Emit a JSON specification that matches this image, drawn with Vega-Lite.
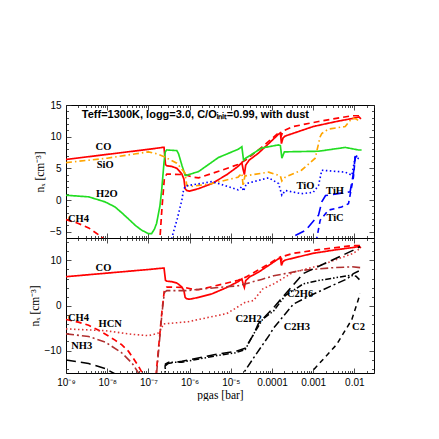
{
  "$schema": "https://vega.github.io/schema/vega-lite/v6.json",
  "padding": {"left": 28, "top": 99, "right": 0, "bottom": 0},
  "background": "white",
  "spacing": 0,
  "bounds": "flush",
  "config": {
    "view": {"stroke": "black", "strokeWidth": 1},
    "axis": {"domain": false, "grid": false, "labelFont": "Liberation Sans", "labelFontSize": 10, "labelColor": "black", "tickColor": "#222222", "tickWidth": 0.8, "titleFont": "Liberation Serif", "titleFontSize": 11.5, "titleFontWeight": "normal", "titleColor": "black", "labelFlush": false, "labelOverlap": false}
  },
  "datasets": {
    "lines": [
      {"s":"CO","x":1e-9,"y":6.4},{"s":"CO","x":1e-8,"y":7.2},{"s":"CO","x":1e-7,"y":8.0},{"s":"CO","x":2.2e-7,"y":8.3},{"s":"CO","x":2.4e-7,"y":8.3},{"s":"CO","x":2.6e-7,"y":5.6},{"s":"CO","x":2.8e-7,"y":5.4},{"s":"CO","x":3.7e-7,"y":5.3},{"s":"CO","x":4.9e-7,"y":5.0},{"s":"CO","x":5.6e-7,"y":4.6},{"s":"CO","x":6.5e-7,"y":4.1},{"s":"CO","x":7.3e-7,"y":3.3},{"s":"CO","x":7.8e-7,"y":1.8},{"s":"CO","x":8.5e-7,"y":1.5},{"s":"CO","x":1.0e-6,"y":1.4},{"s":"CO","x":1.66e-6,"y":1.8},{"s":"CO","x":3.5e-6,"y":2.6},{"s":"CO","x":8e-6,"y":4.0},{"s":"CO","x":1.5e-5,"y":5.3},{"s":"CO","x":1.86e-5,"y":5.9},{"s":"CO","x":2.0e-5,"y":4.8},{"s":"CO","x":2.14e-5,"y":4.0},{"s":"CO","x":2.3e-5,"y":5.5},{"s":"CO","x":2.8e-5,"y":6.3},{"s":"CO","x":4.7e-5,"y":7.4},{"s":"CO","x":8.3e-5,"y":8.9},{"s":"CO","x":1.45e-4,"y":10.4},{"s":"CO","x":1.6e-4,"y":10.6},{"s":"CO","x":1.7e-4,"y":8.9},{"s":"CO","x":1.85e-4,"y":9.8},{"s":"CO","x":2.1e-4,"y":10.1},{"s":"CO","x":1e-3,"y":11.6},{"s":"CO","x":3.7e-3,"y":12.4},{"s":"CO","x":9.5e-3,"y":12.9},{"s":"CO","x":1.3e-2,"y":13.1},{"s":"CO","x":1.45e-2,"y":12.8},

      {"s":"CH4","x":1e-9,"y":-3.1},{"s":"CH4","x":2e-9,"y":-3.7},{"s":"CH4","x":3.55e-9,"y":-4.4},{"s":"CH4","x":6.2e-9,"y":-5.5},{"s":"CH4","x":1e-8,"y":-6.6},{"s":"CH4","x":1.55e-8,"y":-7.7},{"s":"CH4","x":2.24e-8,"y":-8.7},{"s":"CH4","x":3.3e-8,"y":-10.2},{"s":"CH4","x":4.5e-8,"y":-12.0},{"s":"CH4","x":5.75e-8,"y":-13.5},{"s":"CH4","x":7e-8,"y":-14.9},{"s":"CH4","x":9e-8,"y":-16.5},{"s":"CH4","x":1.3e-7,"y":-21},{"s":"CH4","x":1.55e-7,"y":-15},{"s":"CH4","x":2.15e-7,"y":-1.0},{"s":"CH4","x":2.45e-7,"y":3.5},{"s":"CH4","x":2.8e-7,"y":4.1},{"s":"CH4","x":7.8e-7,"y":4.0},{"s":"CH4","x":1.2e-6,"y":3.6},{"s":"CH4","x":1.66e-6,"y":3.5},{"s":"CH4","x":3.5e-6,"y":4.2},{"s":"CH4","x":6e-6,"y":4.7},{"s":"CH4","x":1.5e-5,"y":5.6},{"s":"CH4","x":2.3e-5,"y":6.3},{"s":"CH4","x":5.6e-5,"y":8.3},{"s":"CH4","x":1.45e-4,"y":10.6},{"s":"CH4","x":1.6e-4,"y":10.8},{"s":"CH4","x":1.7e-4,"y":10.2},{"s":"CH4","x":1.85e-4,"y":10.9},{"s":"CH4","x":3.3e-4,"y":11.6},{"s":"CH4","x":1.35e-3,"y":12.4},{"s":"CH4","x":8.7e-3,"y":13.3},{"s":"CH4","x":1.45e-2,"y":13.3},

      {"s":"H2O","x":1e-9,"y":0.75},{"s":"H2O","x":3.55e-9,"y":0.5},{"s":"H2O","x":8.9e-9,"y":-0.3},{"s":"H2O","x":1.55e-8,"y":-1.1},{"s":"H2O","x":2.24e-8,"y":-2.0},{"s":"H2O","x":3.3e-8,"y":-3.0},{"s":"H2O","x":5e-8,"y":-4.1},{"s":"H2O","x":7e-8,"y":-4.8},{"s":"H2O","x":1.0e-7,"y":-5.3},{"s":"H2O","x":1.2e-7,"y":-5.3},{"s":"H2O","x":1.4e-7,"y":-4.6},{"s":"H2O","x":1.58e-7,"y":-3.7},{"s":"H2O","x":1.9e-7,"y":-1.0},{"s":"H2O","x":2.1e-7,"y":1.5},{"s":"H2O","x":2.4e-7,"y":6.0},{"s":"H2O","x":2.57e-7,"y":7.6},{"s":"H2O","x":2.8e-7,"y":7.9},{"s":"H2O","x":4.9e-7,"y":7.8},{"s":"H2O","x":5.4e-7,"y":7.3},{"s":"H2O","x":6.5e-7,"y":5.5},{"s":"H2O","x":7.8e-7,"y":3.9},{"s":"H2O","x":8.5e-7,"y":3.9},{"s":"H2O","x":1.66e-6,"y":4.5},{"s":"H2O","x":5e-6,"y":6.7},{"s":"H2O","x":1.5e-5,"y":8.0},{"s":"H2O","x":1.86e-5,"y":8.4},{"s":"H2O","x":2.04e-5,"y":6.3},{"s":"H2O","x":2.3e-5,"y":6.6},{"s":"H2O","x":5.6e-5,"y":8.2},{"s":"H2O","x":1.45e-4,"y":8.7},{"s":"H2O","x":1.6e-4,"y":8.6},{"s":"H2O","x":1.74e-4,"y":6.6},{"s":"H2O","x":2.0e-4,"y":7.6},{"s":"H2O","x":1.35e-3,"y":7.7},{"s":"H2O","x":6e-3,"y":8.3},{"s":"H2O","x":1.26e-2,"y":7.9},{"s":"H2O","x":1.5e-2,"y":7.9},

      {"s":"SiO","x":1e-9,"y":5.9},{"s":"SiO","x":1e-8,"y":6.6},{"s":"SiO","x":5e-8,"y":7.3},{"s":"SiO","x":1e-7,"y":7.6},{"s":"SiO","x":1.6e-7,"y":7.3},{"s":"SiO","x":2.5e-7,"y":6.8},{"s":"SiO","x":4.9e-7,"y":5.8},{"s":"SiO","x":5.4e-7,"y":5.5},{"s":"SiO","x":7e-7,"y":4.6},{"s":"SiO","x":7.8e-7,"y":4.2},{"s":"SiO","x":8.5e-7,"y":2.4},{"s":"SiO","x":1e-6,"y":2.1},{"s":"SiO","x":1.66e-6,"y":2.3},{"s":"SiO","x":3.5e-6,"y":2.6},{"s":"SiO","x":1.5e-5,"y":3.6},{"s":"SiO","x":1.86e-5,"y":4.2},{"s":"SiO","x":2.0e-5,"y":2.2},{"s":"SiO","x":2.2e-5,"y":3.8},{"s":"SiO","x":8.3e-5,"y":4.4},{"s":"SiO","x":1.6e-4,"y":3.8},{"s":"SiO","x":1.74e-4,"y":3.0},{"s":"SiO","x":2.1e-4,"y":3.6},{"s":"SiO","x":5.2e-4,"y":4.7},{"s":"SiO","x":1.12e-3,"y":6.6},{"s":"SiO","x":1.48e-3,"y":10.0},{"s":"SiO","x":1.62e-3,"y":10.5},{"s":"SiO","x":2.35e-3,"y":11.2},{"s":"SiO","x":6e-3,"y":11.6},{"s":"SiO","x":8.7e-3,"y":12.9},{"s":"SiO","x":1.1e-2,"y":12.8},{"s":"SiO","x":1.4e-2,"y":12.3},

      {"s":"TiO","x":3.3e-7,"y":-8},{"s":"TiO","x":3.7e-7,"y":-6},{"s":"TiO","x":5e-7,"y":-3},{"s":"TiO","x":6.5e-7,"y":0},{"s":"TiO","x":7.1e-7,"y":1.5},{"s":"TiO","x":7.8e-7,"y":2.2},{"s":"TiO","x":3.5e-6,"y":2.9},{"s":"TiO","x":5e-6,"y":2.6},{"s":"TiO","x":1.5e-5,"y":1.6},{"s":"TiO","x":1.86e-5,"y":2.1},{"s":"TiO","x":2.04e-5,"y":1.4},{"s":"TiO","x":2.4e-5,"y":2.6},{"s":"TiO","x":8.3e-5,"y":3.5},{"s":"TiO","x":1.45e-4,"y":2.6},{"s":"TiO","x":1.74e-4,"y":0.75},{"s":"TiO","x":2.1e-4,"y":1.5},{"s":"TiO","x":5.2e-4,"y":1.0},{"s":"TiO","x":1.0e-3,"y":1.2},{"s":"TiO","x":1.35e-3,"y":2.3},{"s":"TiO","x":1.62e-3,"y":4.7},{"s":"TiO","x":6e-3,"y":4.4},{"s":"TiO","x":8.7e-3,"y":3.9},{"s":"TiO","x":1.05e-2,"y":6.8},{"s":"TiO","x":1.3e-2,"y":6.5},

      {"s":"TiH","x":2.4e-4,"y":-7.5},{"s":"TiH","x":3.0e-4,"y":-5.9},{"s":"TiH","x":6.5e-4,"y":-4.8},{"s":"TiH","x":1.35e-3,"y":-2.4},{"s":"TiH","x":1.62e-3,"y":-0.3},{"s":"TiH","x":2.0e-3,"y":0.7},{"s":"TiH","x":7.9e-3,"y":1.3},{"s":"TiH","x":9.5e-3,"y":4.2},{"s":"TiH","x":1.05e-2,"y":6.8},{"s":"TiH","x":1.2e-2,"y":7.0},

      {"s":"TiC","x":1.15e-3,"y":-8},{"s":"TiC","x":1.23e-3,"y":-6},{"s":"TiC","x":1.48e-3,"y":-3.2},{"s":"TiC","x":2.35e-3,"y":-1.6},{"s":"TiC","x":4.9e-3,"y":-1.1},{"s":"TiC","x":7.2e-3,"y":-0.6},{"s":"TiC","x":9.5e-3,"y":3.6},{"s":"TiC","x":1.05e-2,"y":6.7},{"s":"TiC","x":1.3e-2,"y":6.9},

      {"s":"HCN","x":1e-9,"y":-5.2},{"s":"HCN","x":8.9e-9,"y":-5.6},{"s":"HCN","x":4e-8,"y":-6.4},{"s":"HCN","x":1e-7,"y":-6.7},{"s":"HCN","x":1.7e-7,"y":-6.2},{"s":"HCN","x":2.1e-7,"y":-5.0},{"s":"HCN","x":2.3e-7,"y":-4.1},{"s":"HCN","x":9.3e-7,"y":-3.6},{"s":"HCN","x":1.66e-6,"y":-3.1},{"s":"HCN","x":8e-6,"y":-1.8},{"s":"HCN","x":2.24e-5,"y":0.7},{"s":"HCN","x":3.55e-5,"y":1.1},{"s":"HCN","x":6e-5,"y":3.7},{"s":"HCN","x":1.1e-4,"y":4.8},{"s":"HCN","x":3.3e-4,"y":7.4},{"s":"HCN","x":1.45e-3,"y":8.9},{"s":"HCN","x":9.5e-3,"y":11.6},{"s":"HCN","x":1.38e-2,"y":12.7},

      {"s":"NH3","x":1e-9,"y":-6.3},{"s":"NH3","x":3.55e-9,"y":-6.9},{"s":"NH3","x":8.9e-9,"y":-8.1},{"s":"NH3","x":2.24e-8,"y":-10.5},{"s":"NH3","x":4e-8,"y":-12.8},{"s":"NH3","x":5.75e-8,"y":-15},{"s":"NH3","x":9e-8,"y":-19},{"s":"NH3","x":1.3e-7,"y":-21},{"s":"NH3","x":1.55e-7,"y":-16},{"s":"NH3","x":2.15e-7,"y":-1.5},{"s":"NH3","x":2.45e-7,"y":2.9},{"s":"NH3","x":2.8e-7,"y":3.3},{"s":"NH3","x":8.5e-7,"y":3.3},{"s":"NH3","x":2.2e-6,"y":3.7},{"s":"NH3","x":1.55e-5,"y":4.4},{"s":"NH3","x":5.6e-5,"y":5.8},{"s":"NH3","x":1.1e-4,"y":6.6},{"s":"NH3","x":5.2e-4,"y":7.8},{"s":"NH3","x":3e-3,"y":8.4},{"s":"NH3","x":8.7e-3,"y":8.6},{"s":"NH3","x":1.45e-2,"y":8.4},

      {"s":"C2H2","x":1e-9,"y":-12.1},{"s":"C2H2","x":3.55e-9,"y":-12.9},{"s":"C2H2","x":8.9e-9,"y":-14.0},{"s":"C2H2","x":1.55e-8,"y":-15.2},{"s":"C2H2","x":3e-8,"y":-17},{"s":"C2H2","x":1e-7,"y":-20},{"s":"C2H2","x":2.45e-7,"y":-20},{"s":"C2H2","x":2.55e-7,"y":-13.4},{"s":"C2H2","x":3e-7,"y":-12.9},{"s":"C2H2","x":6.5e-7,"y":-12.4},{"s":"C2H2","x":4.2e-6,"y":-10.9},{"s":"C2H2","x":1.3e-5,"y":-10.2},{"s":"C2H2","x":2.24e-5,"y":-9.5},{"s":"C2H2","x":3.55e-5,"y":-6.5},{"s":"C2H2","x":4.7e-5,"y":-4.0},{"s":"C2H2","x":1.1e-4,"y":-0.45},{"s":"C2H2","x":5.75e-4,"y":7.1},{"s":"C2H2","x":9.5e-3,"y":12.3},{"s":"C2H2","x":1.38e-2,"y":13.1},

      {"s":"C2H6","x":2.4e-7,"y":-20},{"s":"C2H6","x":2.6e-7,"y":-13.0},{"s":"C2H6","x":3.1e-7,"y":-12.6},{"s":"C2H6","x":6.5e-7,"y":-12.6},{"s":"C2H6","x":4.2e-6,"y":-11.2},{"s":"C2H6","x":1.3e-5,"y":-10.5},{"s":"C2H6","x":2.24e-5,"y":-9.8},{"s":"C2H6","x":3.55e-5,"y":-6.4},{"s":"C2H6","x":6e-5,"y":-3.0},{"s":"C2H6","x":1.1e-4,"y":-1.2},{"s":"C2H6","x":2.1e-4,"y":2.2},{"s":"C2H6","x":5.75e-4,"y":4.8},{"s":"C2H6","x":1.45e-3,"y":5.6},{"s":"C2H6","x":7.9e-3,"y":6.7},{"s":"C2H6","x":1.1e-2,"y":6.5},{"s":"C2H6","x":1.38e-2,"y":5.6},

      {"s":"C2H3","x":1.8e-5,"y":-17},{"s":"C2H3","x":2.04e-5,"y":-15},{"s":"C2H3","x":3.55e-5,"y":-11.7},{"s":"C2H3","x":8.3e-5,"y":-6.8},{"s":"C2H3","x":1.1e-4,"y":-5.0},{"s":"C2H3","x":3.3e-4,"y":0.3},{"s":"C2H3","x":8.5e-4,"y":2.2},{"s":"C2H3","x":3e-3,"y":4.5},{"s":"C2H3","x":6.6e-3,"y":5.9},{"s":"C2H3","x":9.5e-3,"y":7.1},{"s":"C2H3","x":1.38e-2,"y":7.8},

      {"s":"C2","x":8.5e-4,"y":-16},{"s":"C2","x":9.3e-4,"y":-14.7},{"s":"C2","x":3.7e-3,"y":-8.7},{"s":"C2","x":8.7e-3,"y":-3.1},{"s":"C2","x":1.15e-2,"y":0.3},{"s":"C2","x":1.38e-2,"y":2.6}
    ],
    "labels": [
      {"panel":"top","label":"CO","x":8.1e-9,"y":8.3},
      {"panel":"top","label":"SiO","x":8.9e-9,"y":5.5},
      {"panel":"top","label":"H2O","x":9.8e-9,"y":0.9},
      {"panel":"top","label":"CH4","x":2.0e-9,"y":-2.95},
      {"panel":"top","label":"TiO","x":6.5e-4,"y":2.2},
      {"panel":"top","label":"TiH","x":3.4e-3,"y":1.5},
      {"panel":"top","label":"TiC","x":3.4e-3,"y":-2.9},
      {"panel":"bottom","label":"CO","x":8.1e-9,"y":8.4},
      {"panel":"bottom","label":"CH4","x":2.0e-9,"y":-2.8},
      {"panel":"bottom","label":"HCN","x":1.18e-8,"y":-4.0},
      {"panel":"bottom","label":"NH3","x":2.4e-9,"y":-9.1},
      {"panel":"bottom","label":"C2H2","x":2.7e-5,"y":-3.1},
      {"panel":"bottom","label":"C2H6","x":4.8e-4,"y":2.6},
      {"panel":"bottom","label":"C2H3","x":4e-4,"y":-4.8},
      {"panel":"bottom","label":"C2","x":1.26e-2,"y":-4.8}
    ],
    "note": [
      {"text":"Teff=1300K, logg=3.0, C/Oᵢₙᵢₜ=0.99, with dust","x":2.42e-9,"y":13.4}
    ]
  },
  "vconcat": [
    {
      "width": 308,
      "height": 133,
      "resolve": {"axis": {"x": "independent", "y": "independent"}},
      "layer": [
        {
          "data": {"name": "lines"},
          "transform": [{"filter": {"field": "s", "oneOf": ["CO","CH4","H2O","SiO","TiO","TiH","TiC"]}}],
          "mark": {"type": "line", "clip": true},
          "encoding": {
            "x": {"field": "x", "type": "quantitative", "scale": {"type": "log", "domain": [1e-9, 0.03], "nice": false},
              "axis": {"orient": "bottom", "title": null, "labels": false, "tickSize": -5,
                "values": [1e-9,1e-8,1e-7,1e-6,1e-5,1e-4,1e-3,0.01]}},
            "y": {"field": "y", "type": "quantitative", "scale": {"domain": [-6, 15], "nice": false, "zero": false},
              "axis": {"orient": "left", "title": "nₓ [cm⁻³]", "titlePadding": 4, "labelPadding": 10, "tickSize": -5,
                "values": [-5,0,5,10,15]}},
            "color": {"field": "s", "type": "nominal", "legend": null,
              "scale": {"domain": ["CO","CH4","H2O","SiO","TiO","TiH","TiC","HCN","NH3","C2H2","C2H6","C2H3","C2"],
                "range": ["#ff0000","#ff0000","#22dd22","#ffa500","#0000ff","#0000ff","#0000ff","#dd3333","#b03030","#000000","#000000","#000000","#000000"]}},
            "strokeDash": {"field": "s", "type": "nominal", "legend": null,
              "scale": {"domain": ["CO","CH4","H2O","SiO","TiO","TiH","TiC","HCN","NH3","C2H2","C2H6","C2H3","C2"],
                "range": [[1,0],[6,4],[1,0],[6,3,1.5,3],[1.5,2.5],[10,5],[5,4],[1.5,2.5],[8,3,2,3],[10,5],[6,2,1.5,2,1.5,2],[8,3,2,3],[5,4]]}},
            "strokeWidth": {"field": "s", "type": "nominal", "legend": null,
              "scale": {"domain": ["CO","CH4","H2O","SiO","TiO","TiH","TiC","HCN","NH3","C2H2","C2H6","C2H3","C2"],
                "range": [1.7,1.5,1.3,1.1,1.2,1.3,1.3,1.1,1.5,1.2,0.9,1.1,1.1]}}
          }
        },
        {
          "data": {"name": "labels"},
          "transform": [{"filter": "datum.panel === 'top'"}],
          "mark": {"type": "text", "font": "Liberation Serif", "fontSize": 10.5, "fontWeight": "bold", "color": "black"},
          "encoding": {
            "x": {"field": "x", "type": "quantitative", "axis": {"orient": "top", "title": null, "labels": false, "tickSize": -5,
                "values": [1e-9,1e-8,1e-7,1e-6,1e-5,1e-4,1e-3,0.01]}},
            "y": {"field": "y", "type": "quantitative", "axis": {"orient": "right", "title": null, "labels": false, "tickSize": -5,
                "values": [-5,0,5,10,15]}},
            "text": {"field": "label"}
          }
        },
        {
          "data": {"name": "note"},
          "mark": {"type": "text", "font": "Liberation Sans", "fontWeight": "bold", "fontSize": 11, "align": "left", "color": "black"},
          "encoding": {
            "x": {"field": "x", "type": "quantitative", "axis": {"orient": "bottom", "title": null, "labels": false, "tickSize": -2.5,
                "values": [2e-9,3e-9,4e-9,5e-9,6e-9,7e-9,8e-9,9e-9,2e-8,3e-8,4e-8,5e-8,6e-8,7e-8,8e-8,9e-8,2e-7,3e-7,4e-7,5e-7,6e-7,7e-7,8e-7,9e-7,2e-6,3e-6,4e-6,5e-6,6e-6,7e-6,8e-6,9e-6,2e-5,3e-5,4e-5,5e-5,6e-5,7e-5,8e-5,9e-5,2e-4,3e-4,4e-4,5e-4,6e-4,7e-4,8e-4,9e-4,2e-3,3e-3,4e-3,5e-3,6e-3,7e-3,8e-3,9e-3,0.02,0.03]}},
            "y": {"field": "y", "type": "quantitative", "axis": {"orient": "left", "title": null, "labels": false, "tickSize": -2.5,
                "values": [-4,-3,-2,-1,1,2,3,4,6,7,8,9,11,12,13,14]}},
            "text": {"field": "text"}
          }
        },
        {
          "data": {"name": "note"},
          "transform": [{"filter": "false"}],
          "mark": {"type": "text"},
          "encoding": {
            "x": {"field": "x", "type": "quantitative", "axis": {"orient": "top", "title": null, "labels": false, "tickSize": -2.5,
                "values": [2e-9,3e-9,4e-9,5e-9,6e-9,7e-9,8e-9,9e-9,2e-8,3e-8,4e-8,5e-8,6e-8,7e-8,8e-8,9e-8,2e-7,3e-7,4e-7,5e-7,6e-7,7e-7,8e-7,9e-7,2e-6,3e-6,4e-6,5e-6,6e-6,7e-6,8e-6,9e-6,2e-5,3e-5,4e-5,5e-5,6e-5,7e-5,8e-5,9e-5,2e-4,3e-4,4e-4,5e-4,6e-4,7e-4,8e-4,9e-4,2e-3,3e-3,4e-3,5e-3,6e-3,7e-3,8e-3,9e-3,0.02,0.03]}},
            "y": {"field": "y", "type": "quantitative", "axis": {"orient": "right", "title": null, "labels": false, "tickSize": -2.5,
                "values": [-4,-3,-2,-1,1,2,3,4,6,7,8,9,11,12,13,14]}},
            "text": {"field": "text"}
          }
        }
      ]
    },
    {
      "width": 308,
      "height": 135,
      "resolve": {"axis": {"x": "independent", "y": "independent"}},
      "layer": [
        {
          "data": {"name": "lines"},
          "transform": [{"filter": {"field": "s", "oneOf": ["CO","CH4","HCN","NH3","C2H2","C2H6","C2H3","C2"]}}],
          "mark": {"type": "line", "clip": true},
          "encoding": {
            "x": {"field": "x", "type": "quantitative", "scale": {"type": "log", "domain": [1e-9, 0.03], "nice": false},
              "axis": {"orient": "bottom", "title": "pgas [bar]", "titlePadding": 2, "labelPadding": 9, "tickSize": -5,
                "values": [1e-9,1e-8,1e-7,1e-6,1e-5,1e-4,1e-3,0.01],
                "labelExpr": "datum.value < 5e-9 ? '10⁻⁹' : datum.value < 5e-8 ? '10⁻⁸' : datum.value < 5e-7 ? '10⁻⁷' : datum.value < 5e-6 ? '10⁻⁶' : datum.value < 5e-5 ? '10⁻⁵' : datum.value < 5e-4 ? '0.0001' : datum.value < 5e-3 ? '0.001' : '0.01'"}},
            "y": {"field": "y", "type": "quantitative", "scale": {"domain": [-15, 15], "nice": false, "zero": false},
              "axis": {"orient": "left", "title": "nₓ [cm⁻³]", "titlePadding": 4, "labelPadding": 10, "tickSize": -5,
                "values": [-10,0,10]}},
            "color": {"field": "s", "type": "nominal", "legend": null,
              "scale": {"domain": ["CO","CH4","H2O","SiO","TiO","TiH","TiC","HCN","NH3","C2H2","C2H6","C2H3","C2"],
                "range": ["#ff0000","#ff0000","#22dd22","#ffa500","#0000ff","#0000ff","#0000ff","#dd3333","#b03030","#000000","#000000","#000000","#000000"]}},
            "strokeDash": {"field": "s", "type": "nominal", "legend": null,
              "scale": {"domain": ["CO","CH4","H2O","SiO","TiO","TiH","TiC","HCN","NH3","C2H2","C2H6","C2H3","C2"],
                "range": [[1,0],[6,4],[1,0],[6,3,1.5,3],[1.5,2.5],[10,5],[5,4],[1.5,2.5],[8,3,2,3],[10,5],[6,2,1.5,2,1.5,2],[8,3,2,3],[5,4]]}},
            "strokeWidth": {"field": "s", "type": "nominal", "legend": null,
              "scale": {"domain": ["CO","CH4","H2O","SiO","TiO","TiH","TiC","HCN","NH3","C2H2","C2H6","C2H3","C2"],
                "range": [1.7,1.5,1.3,1.1,1.2,1.3,1.3,1.1,1.5,1.2,0.9,1.1,1.1]}}
          }
        },
        {
          "data": {"name": "labels"},
          "transform": [{"filter": "datum.panel === 'bottom'"}],
          "mark": {"type": "text", "font": "Liberation Serif", "fontSize": 10.5, "fontWeight": "bold", "color": "black"},
          "encoding": {
            "x": {"field": "x", "type": "quantitative", "axis": {"orient": "top", "title": null, "labels": false, "tickSize": -5,
                "values": [1e-9,1e-8,1e-7,1e-6,1e-5,1e-4,1e-3,0.01]}},
            "y": {"field": "y", "type": "quantitative", "axis": {"orient": "right", "title": null, "labels": false, "tickSize": -5,
                "values": [-10,0,10]}},
            "text": {"field": "label"}
          }
        },
        {
          "data": {"name": "labels"},
          "transform": [{"filter": "false"}],
          "mark": {"type": "text"},
          "encoding": {
            "x": {"field": "x", "type": "quantitative", "axis": {"orient": "bottom", "title": null, "labels": false, "tickSize": -2.5,
                "values": [2e-9,3e-9,4e-9,5e-9,6e-9,7e-9,8e-9,9e-9,2e-8,3e-8,4e-8,5e-8,6e-8,7e-8,8e-8,9e-8,2e-7,3e-7,4e-7,5e-7,6e-7,7e-7,8e-7,9e-7,2e-6,3e-6,4e-6,5e-6,6e-6,7e-6,8e-6,9e-6,2e-5,3e-5,4e-5,5e-5,6e-5,7e-5,8e-5,9e-5,2e-4,3e-4,4e-4,5e-4,6e-4,7e-4,8e-4,9e-4,2e-3,3e-3,4e-3,5e-3,6e-3,7e-3,8e-3,9e-3,0.02,0.03]}},
            "y": {"field": "y", "type": "quantitative", "axis": {"orient": "left", "title": null, "labels": false, "tickSize": -2.5,
                "values": [-14,-12,-8,-6,-4,-2,2,4,6,8,12,14]}},
            "text": {"field": "label"}
          }
        },
        {
          "data": {"name": "labels"},
          "transform": [{"filter": "false"}],
          "mark": {"type": "text"},
          "encoding": {
            "x": {"field": "x", "type": "quantitative", "axis": {"orient": "top", "title": null, "labels": false, "tickSize": -2.5,
                "values": [2e-9,3e-9,4e-9,5e-9,6e-9,7e-9,8e-9,9e-9,2e-8,3e-8,4e-8,5e-8,6e-8,7e-8,8e-8,9e-8,2e-7,3e-7,4e-7,5e-7,6e-7,7e-7,8e-7,9e-7,2e-6,3e-6,4e-6,5e-6,6e-6,7e-6,8e-6,9e-6,2e-5,3e-5,4e-5,5e-5,6e-5,7e-5,8e-5,9e-5,2e-4,3e-4,4e-4,5e-4,6e-4,7e-4,8e-4,9e-4,2e-3,3e-3,4e-3,5e-3,6e-3,7e-3,8e-3,9e-3,0.02,0.03]}},
            "y": {"field": "y", "type": "quantitative", "axis": {"orient": "right", "title": null, "labels": false, "tickSize": -2.5,
                "values": [-14,-12,-8,-6,-4,-2,2,4,6,8,12,14]}},
            "text": {"field": "label"}
          }
        }
      ]
    }
  ]
}
